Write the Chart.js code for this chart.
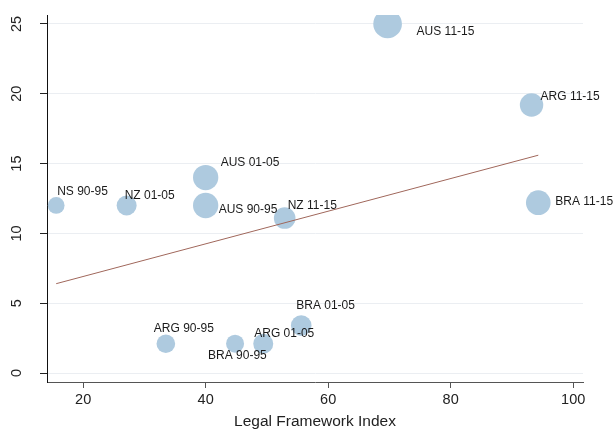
<!DOCTYPE html>
<html>
<head>
<meta charset="utf-8">
<script src="https://cdn.jsdelivr.net/npm/chart.js@4.4.1/dist/chart.umd.min.js"></script>
<style>
  html, body { margin: 0; padding: 0; background: #ffffff; }
  #wrap { width: 616px; height: 431px; position: relative; }
</style>
</head>
<body>
<div id="wrap"><canvas id="chart" width="616" height="431"></canvas></div>
<script>
// Country / period observations
const labels = ['NS 90-95', 'NZ 01-05', 'AUS 01-05', 'AUS 90-95', 'NZ 11-15', 'AUS 11-15',
                'ARG 11-15', 'BRA 11-15', 'ARG 90-95', 'BRA 90-95', 'ARG 01-05', 'BRA 01-05'];
const legalIndex = [15.6, 27.1, 40.0, 40.0, 52.9, 69.7, 93.2, 94.3, 33.5, 44.8, 49.4, 55.6];
const outcome    = [12.0, 12.0, 14.0, 12.0, 11.1, 25.0, 19.2, 12.2, 2.1, 2.1, 2.1, 3.4];
const weight     = [70, 100, 160, 160, 117, 205, 137, 152, 87, 81, 100, 106];

// Fitted line endpoints
const fitX = [15.6, 94.3];
const fitY = [6.4, 15.6];

// Axis ticks
const xTicks = [20, 40, 60, 80, 100];
const yTicks = [0, 5, 10, 15, 20, 25];

// Label placement around each marker (pixel offsets from the marker centre)
const labelOffset = [[1, -14], [-2, -10], [15, -15], [13, 4], [3, -12], [29, 8],
                     [9, -8], [17, -1], [-12, -15], [-27, 12], [-9, -10], [-5, -20]];

const FONT = '"Liberation Sans", Arial, Helvetica, sans-serif';

const bubbleData = legalIndex.map((x, i) => ({ x: x, y: outcome[i], r: Math.sqrt(weight[i]) }));
const fitData = fitX.map((x, i) => ({ x: x, y: fitY[i] }));

// Marker labels
const markerLabels = {
  id: 'markerLabels',
  afterDatasetsDraw(chart) {
    const meta = chart.getDatasetMeta(1);
    const ctx = chart.ctx;
    ctx.save();
    ctx.font = '12px ' + FONT;
    ctx.fillStyle = '#1a1a1a';
    ctx.textAlign = 'left';
    ctx.textBaseline = 'middle';
    meta.data.forEach((pt, i) => {
      const off = labelOffset[i];
      ctx.fillText(labels[i], pt.x + off[0], pt.y + off[1]);
    });
    ctx.restore();
  }
};

// Vertical y tick labels
const yTickLabels = {
  id: 'yTickLabels',
  afterDraw(chart) {
    const ys = chart.scales.y;
    const ctx = chart.ctx;
    ctx.save();
    ctx.font = '14.5px ' + FONT;
    ctx.fillStyle = '#222222';
    ctx.textAlign = 'center';
    ctx.textBaseline = 'middle';
    ys.ticks.forEach(t => {
      const py = ys.getPixelForValue(t.value);
      ctx.save();
      ctx.translate(17, py);
      ctx.rotate(-Math.PI / 2);
      ctx.fillText(String(t.value), 0, 0);
      ctx.restore();
    });
    ctx.restore();
  }
};

new Chart(document.getElementById('chart'), {
  type: 'bubble',
  data: {
    datasets: [
      {
        type: 'line',
        data: fitData,
        borderColor: '#a0675b',
        borderWidth: 1,
        pointRadius: 0,
        fill: false,
        order: 0
      },
      {
        type: 'bubble',
        data: bubbleData,
        backgroundColor: '#aecadf',
        borderWidth: 0,
        hoverRadius: 0,
        order: 1
      }
    ]
  },
  options: {
    responsive: false,
    animation: false,
    events: [],
    layout: { padding: { top: 15, right: 33, left: 0, bottom: 0 } },
    plugins: { legend: { display: false }, tooltip: { enabled: false } },
    scales: {
      x: {
        type: 'linear',
        min: 14.1,
        max: 101.6,
        afterBuildTicks: s => { s.ticks = xTicks.map(v => ({ value: v })); },
        afterFit: s => { s.height = 49; },
        grid: { display: true, drawOnChartArea: false, tickLength: 6, tickColor: '#555555' },
        border: { color: '#555555', width: 1 },
        ticks: { color: '#222222', font: { family: FONT, size: 14.5 }, padding: 3, maxRotation: 0 },
        title: { display: true, text: 'Legal Framework Index', color: '#222222',
                 font: { family: FONT, size: 15.5 }, padding: { top: 0, bottom: 0 } }
      },
      y: {
        type: 'linear',
        min: -0.64,
        max: 25.64,
        afterBuildTicks: s => { s.ticks = yTicks.map(v => ({ value: v })); },
        afterFit: s => { s.width = 47; },
        grid: { color: '#ebeef2', lineWidth: 1, tickLength: 7, tickColor: '#222222' },
        border: { color: '#111111', width: 1 },
        ticks: { display: false }
      }
    }
  },
  plugins: [markerLabels, yTickLabels]
});
</script>
</body>
</html>
